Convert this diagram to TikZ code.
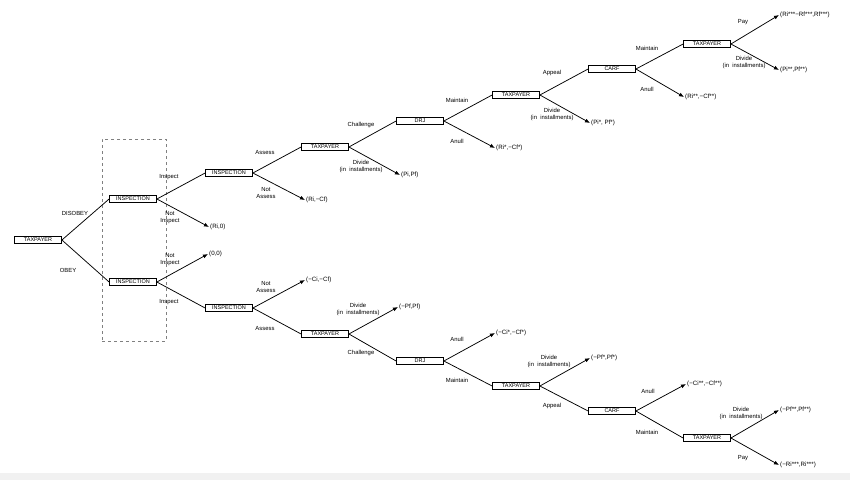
\documentclass[tikz,border=0pt]{standalone}
\usepackage{fontspec}
\setmainfont{Liberation Sans}
\usetikzlibrary{arrows.meta}
\definecolor{band}{HTML}{F1F1F1}
\tikzset{
  box/.style={draw, line width=0.8pt, minimum width=47pt, minimum height=7pt, inner sep=0pt, font=\fontsize{5.5}{6}\selectfont},
  lab/.style={font=\fontsize{5.9}{7}\selectfont, align=center, inner sep=0pt},
  pay/.style={anchor=west, inner sep=1pt, font=\fontsize{6.2}{7}\selectfont},
  edge/.style={line width=0.75pt},
  term/.style={line width=0.75pt, -{Latex[length=5pt,width=4pt]}}
}
\begin{document}
\begin{tikzpicture}[x=1pt,y=-1pt]
\useasboundingbox (0,0) rectangle (850,480);
\fill[band] (0,473) rectangle (850,480);
% dashed frame
\node[draw=gray, dashed, line width=0.8pt, minimum width=64pt, minimum height=202pt, inner sep=0pt] (frame) at (134,240) {};
% decision boxes
\node[box] (root) at (38,240) {TAXPAYER};
\node[box] (insU) at (133,199) {INSPECTION};
\node[box] (insL) at (133,282) {INSPECTION};
\node[box] (ins2U) at (229,173) {INSPECTION};
\node[box] (ins2L) at (229,308) {INSPECTION};
\node[box] (tpU) at (325,147) {TAXPAYER};
\node[box] (tpL) at (325,334) {TAXPAYER};
\node[box] (drjU) at (420,121) {DRJ};
\node[box] (drjL) at (420,361) {DRJ};
\node[box] (tp2U) at (516,95) {TAXPAYER};
\node[box] (tp2L) at (516,386) {TAXPAYER};
\node[box] (carfU) at (612,69) {CARF};
\node[box] (carfL) at (612,411) {CARF};
\node[box] (tp3U) at (707,44) {TAXPAYER};
\node[box] (tp3L) at (707,438) {TAXPAYER};
% payoffs
\node[pay] (p1) at (209,227) {(Ri,0)};
\node[pay] (p2) at (305,200) {(Ri,−Cf)};
\node[pay] (p3) at (400,175) {(Pi,Pf)};
\node[pay] (p4) at (495,148) {(Ri*,−Cf*)};
\node[pay] (p5) at (590,123) {(Pi*, Pf*)};
\node[pay] (p6) at (684,97) {(Ri**,−Cf**)};
\node[pay] (p7) at (779,15) {(Ri***−Rf***,Rf***)};
\node[pay] (p8) at (779,70) {(Pi**,Pf**)};
\node[pay] (q1) at (208,254) {(0,0)};
\node[pay] (q2) at (305,280) {(−Ci,−Cf)};
\node[pay] (q3) at (398,307) {(−Pf,Pf)};
\node[pay] (q4) at (495,333) {(−Ci*,−Cf*)};
\node[pay] (q5) at (590,358) {(−Pf*,Pf*)};
\node[pay] (q6) at (686,384) {(−Ci**,−Cf**)};
\node[pay] (q7) at (779,410) {(−Pf**,Pf**)};
\node[pay] (q8) at (779,465) {(−Ri***,Ri***)};
% edges between boxes
\draw[edge] (root.east) -- (insU.west);
\draw[edge] (root.east) -- (insL.west);
\draw[edge] (insU.east) -- (ins2U.west);
\draw[edge] (insL.east) -- (ins2L.west);
\draw[edge] (ins2U.east) -- (tpU.west);
\draw[edge] (ins2L.east) -- (tpL.west);
\draw[edge] (tpU.east) -- (drjU.west);
\draw[edge] (tpL.east) -- (drjL.west);
\draw[edge] (drjU.east) -- (tp2U.west);
\draw[edge] (drjL.east) -- (tp2L.west);
\draw[edge] (tp2U.east) -- (carfU.west);
\draw[edge] (tp2L.east) -- (carfL.west);
\draw[edge] (carfU.east) -- (tp3U.west);
\draw[edge] (carfL.east) -- (tp3L.west);
% terminal arrows
\draw[term] (insU.east) -- (p1.west);
\draw[term] (ins2U.east) -- (p2.west);
\draw[term] (tpU.east) -- (p3.west);
\draw[term] (drjU.east) -- (p4.west);
\draw[term] (tp2U.east) -- (p5.west);
\draw[term] (carfU.east) -- (p6.west);
\draw[term] (tp3U.east) -- (p7.west);
\draw[term] (tp3U.east) -- (p8.west);
\draw[term] (insL.east) -- (q1.west);
\draw[term] (ins2L.east) -- (q2.west);
\draw[term] (tpL.east) -- (q3.west);
\draw[term] (drjL.east) -- (q4.west);
\draw[term] (tp2L.east) -- (q5.west);
\draw[term] (carfL.east) -- (q6.west);
\draw[term] (tp3L.east) -- (q7.west);
\draw[term] (tp3L.east) -- (q8.west);
% labels
\node[lab] (l1) at (75,213) {DISOBEY};
\node[lab] (l2) at (68,270) {OBEY};
\node[lab] (l3) at (169,177) {Inspect};
\node[lab] (l4) at (170,218) {Not\\Inspect};
\node[lab] (l5) at (170,260) {Not\\Inspect};
\node[lab] (l6) at (169,302) {Inspect};
\node[lab] (l7) at (265,152) {Assess};
\node[lab] (l8) at (266,193) {Not\\Assess};
\node[lab] (l9) at (266,287) {Not\\Assess};
\node[lab] (l10) at (265,328) {Assess};
\node[lab] (l11) at (361,125) {Challenge};
\node[lab] (l12) at (361,166) {Divide\\(in~~installments)};
\node[lab] (l13) at (358,309) {Divide\\(in~~installments)};
\node[lab] (l14) at (361,353) {Challenge};
\node[lab] (l15) at (457,100) {Maintain};
\node[lab] (l16) at (457,141) {Anull};
\node[lab] (l17) at (457,339) {Anull};
\node[lab] (l18) at (457,380) {Maintain};
\node[lab] (l19) at (552,73) {Appeal};
\node[lab] (l20) at (552,114) {Divide\\(in~~installments)};
\node[lab] (l21) at (549,361) {Divide\\(in~~installments)};
\node[lab] (l22) at (552,406) {Appeal};
\node[lab] (l23) at (647,48) {Maintain};
\node[lab] (l24) at (647,89) {Anull};
\node[lab] (l25) at (648,391) {Anull};
\node[lab] (l26) at (647,432) {Maintain};
\node[lab] (l27) at (743,22) {Pay};
\node[lab] (l28) at (744,62) {Divide\\(in~~installments)};
\node[lab] (l29) at (741,413) {Divide\\(in~~installments)};
\node[lab] (l30) at (743,458) {Pay};
\end{tikzpicture}
\end{document}
